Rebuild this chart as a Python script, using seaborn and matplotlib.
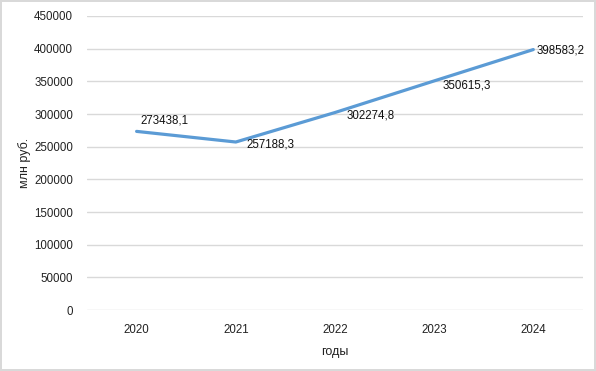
import matplotlib.pyplot as plt
import pandas as pd
import seaborn as sns

years = ["2020", "2021", "2022", "2023", "2024"]
values = [273438.1, 257188.3, 302274.8, 350615.3, 398583.2]
value_labels = ["273438,1", "257188,3", "302274,8", "350615,3", "398583,2"]

df = pd.DataFrame({"year": years, "value": values})

sns.set_style("white")
plt.rcParams["font.family"] = ["Liberation Sans", "DejaVu Sans"]

fig = plt.figure(figsize=(5.96, 3.71), dpi=100)
fig.patch.set_edgecolor("#d9d9d9")
fig.patch.set_linewidth(1.5)
ax = fig.add_axes([0.146, 0.164, 0.832, 0.793])

sns.lineplot(data=df, x="year", y="value", color="#5b9bd5", linewidth=2.3, ax=ax)

ax.set_xlim(-0.5, 4.5)
ax.set_ylim(0, 450000)
ax.set_yticks(range(0, 450001, 50000))
ax.yaxis.grid(True, color="#d9d9d9", linewidth=1)
ax.set_axisbelow(True)
for s in ax.spines.values():
    s.set_visible(False)
ax.tick_params(axis="both", length=0, labelsize=8.3, colors="#222222", pad=10)

# data labels, mostly to the right of the point
offsets = [(3, 8), (8, -2), (8, -2), (6, -3), (2, -1)]
for i, (v, lab) in enumerate(zip(values, value_labels)):
    ax.annotate(lab, (i, v), xytext=offsets[i], textcoords="offset points",
                fontsize=8.3, color="#111111", ha="left", va="center")

ax.set_xlabel("годы", fontsize=9, color="#222222", labelpad=7)
ax.set_ylabel("млн руб.", fontsize=9, color="#222222", labelpad=2)

fig.savefig("out.png", dpi=100)
